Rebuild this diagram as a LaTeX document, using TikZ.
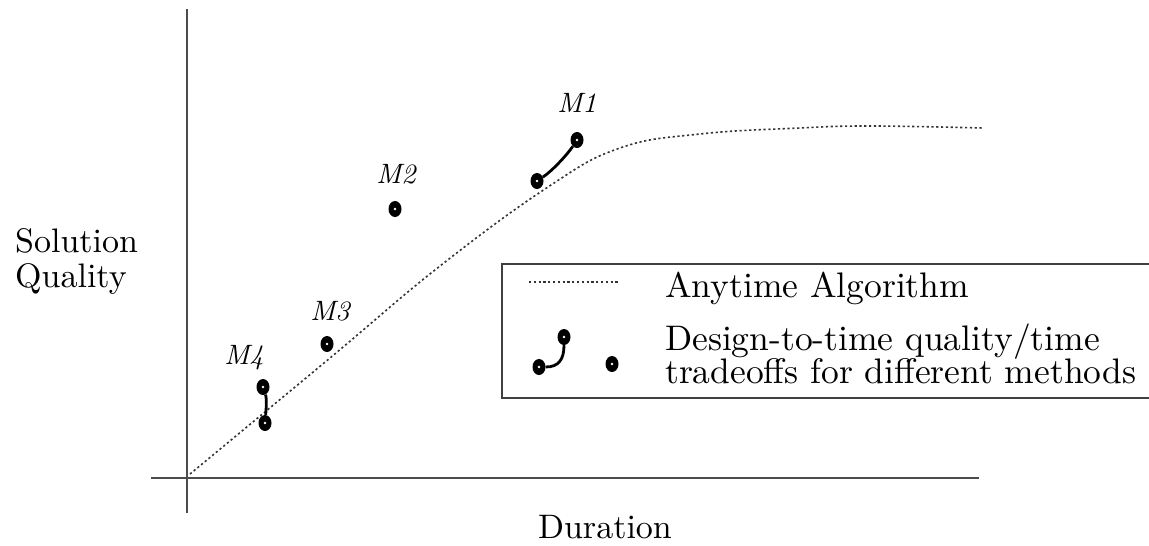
\documentclass[tikz,border=0pt]{standalone}
\usepackage{fontspec}
\setmainfont{lmroman10-regular}[Extension=.otf,ItalicFont=lmroman10-italic]
\usetikzlibrary{shapes.geometric}
\begin{document}
\begin{tikzpicture}[x=1pt,y=-1pt,
  axis/.style={draw=black!70,line width=2pt},
  anytime/.style={draw=black!80,line width=1.6pt,dash pattern=on 2.2pt off 2.6pt},
  mdot/.style={ellipse,fill=black,minimum width=13pt,minimum height=16pt,inner sep=0pt,
    path picture={\fill[white] (path picture bounding box.center) circle (1.3pt);}},
  tradeoff/.style={line width=2.8pt},
  lbl/.style={font=\fontsize{34}{36}\selectfont,inner sep=0pt},
  leg/.style={font=\fontsize{35.5}{37}\selectfont,inner sep=0pt},
  mlbl/.style={font=\fontsize{28}{30}\selectfont\itshape,inner sep=0pt}]

\useasboundingbox (0,0) rectangle (1149,546);

% axes
\coordinate (ytop) at (187,9);
\coordinate (ybot) at (187,513);
\coordinate (xl) at (151,478);
\coordinate (xr) at (979,478);
\draw[axis] (ytop) -- (ybot);
\draw[axis] (xl) -- (xr);

% anytime curve
\draw[anytime] plot[smooth,tension=0.7] coordinates
  {(190,474) (330,358) (440,266) (548,187) (620,148) (700,134)
   (800,128) (870,126) (983,128)};

% methods
\node[mdot] (m1a) at (537,181) {};
\node[mdot] (m1b) at (577,140) {};
\node[mdot] (m2) at (395,209) {};
\node[mdot] (m3) at (327,344) {};
\node[mdot] (m4a) at (263,387) {};
\node[mdot] (m4b) at (265,423) {};
\draw[tradeoff] (m1a) .. controls +(15,-10) and +(-10,15) .. (m1b);
\draw[tradeoff] (m4a) .. controls +(4,12) and +(1,-12) .. (m4b);

\node[mlbl] (l1) at (577,103) {M1};
\node[mlbl] (l2) at (396,174) {M2};
\node[mlbl] (l3) at (330,311) {M3};
\node[mlbl] (l4) at (244,358) {M4};

% axis labels
\node[lbl,anchor=base west] (sol) at (15,252) {Solution};
\node[lbl,anchor=base west] (qual) at (15,287) {Quality};
\node[lbl,anchor=base] (dur) at (605,538) {Duration};

% legend
\draw[draw=black!75,line width=2pt] (502,264) rectangle (1160,398);
\coordinate (la) at (529,282);
\coordinate (lb) at (620,282);
\draw[anytime] (la) -- (lb);
\node[mdot] (ga) at (539,367) {};
\node[mdot] (gb) at (564,337) {};
\node[mdot] (gc) at (612,364) {};
\draw[tradeoff] (ga) .. controls +(20,0) and +(0,22) .. (gb);
\node[leg,anchor=base west] (t1) at (665,297) {Anytime Algorithm};
\node[leg,anchor=base west] (t2) at (665,350) {Design-to-time quality/time};
\node[leg,anchor=base west] (t3) at (665,383) {tradeoffs for different methods};
\end{tikzpicture}
\end{document}
